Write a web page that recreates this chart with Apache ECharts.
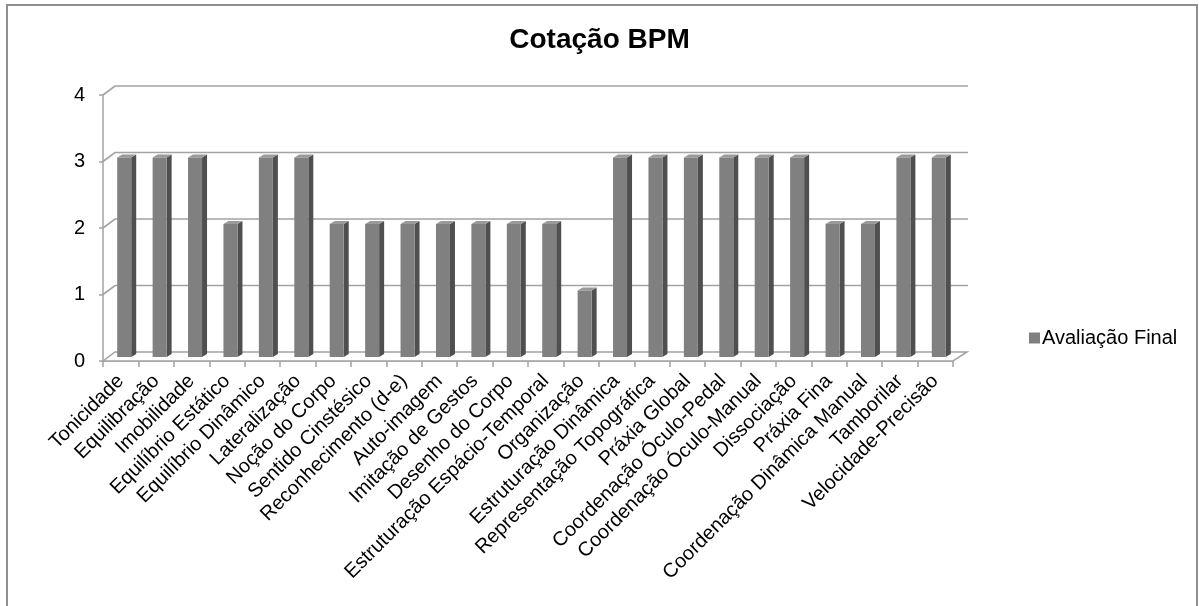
<!DOCTYPE html>
<html>
<head>
<meta charset="utf-8">
<script src="https://cdn.jsdelivr.net/npm/echarts@6/dist/echarts.min.js"></script>
<style>
  html, body { margin: 0; padding: 0; background: #ffffff; }
  #chart { width: 1199px; height: 606px; }
</style>
</head>
<body>
<div id="chart"></div>
<script>
// Assessment items of the BPM battery
const categories = [
  'Tonicidade', 'Equilibração', 'Imobilidade', 'Equilíbrio Estático',
  'Equilíbrio Dinâmico', 'Lateralização', 'Noção do Corpo', 'Sentido Cinstésico',
  'Reconhecimento (d-e)', 'Auto-imagem', 'Imitação de Gestos', 'Desenho do Corpo',
  'Estruturação Espácio-Temporal', 'Organização', 'Estruturação Dinâmica',
  'Representação Topográfica', 'Práxia Global', 'Coordenação Óculo-Pedal',
  'Coordenação Óculo-Manual', 'Dissociação', 'Práxia Fina',
  'Coordenação Dinâmica Manual', 'Tamborilar', 'Velocidade-Precisão'
];
// Final assessment score per item
const finalScores = [3, 3, 3, 2, 3, 3, 2, 2, 2, 2, 2, 2, 2, 1, 3, 3, 3, 3, 3, 3, 2, 2, 3, 3];
// Value axis ticks
const yTicks = [0, 1, 2, 3, 4];

const FONT = "'Liberation Sans', Arial, sans-serif";
const GRID_COLOR = '#a3a3a3';
// pseudo-3D depth of the back wall and of the columns
const WALL_DX = 12, WALL_DY = -9;
const BAR_DY = -4, SIDE_DX = 5, SIDE_DY = -3;

const chart = echarts.init(document.getElementById('chart'), null, { renderer: 'canvas' });

function renderWall(params, api) {
  const v = api.value(1);
  const cs = params.coordSys;
  const y = api.coord([0, v])[1];
  const x0 = cs.x;
  const x1 = cs.x + cs.width;
  const children = [];
  if (v === 0) {
    // floor
    children.push({
      type: 'polygon',
      shape: { points: [[x0, y], [x1, y], [x1 + WALL_DX + 2, y + WALL_DY], [x0 + WALL_DX, y + WALL_DY]] },
      style: { fill: '#ffffff', stroke: GRID_COLOR, lineWidth: 1.5 }
    });
  } else {
    children.push({
      type: 'polyline',
      shape: { points: [[x0, y], [x0 + WALL_DX, y + WALL_DY], [x1 + WALL_DX + 3, y + WALL_DY]] },
      style: { fill: null, stroke: GRID_COLOR, lineWidth: 1.6 }
    });
  }
  return { type: 'group', children: children };
}

function renderBar(params, api) {
  const idx = api.value(0);
  const v = api.value(1);
  const top = api.coord([idx, v]);
  const base = api.coord([idx, 0]);
  const c = top[0];
  const l = c - 3.5, r = c + 10.5;
  const yt = top[1] + BAR_DY;
  const yb = base[1] + BAR_DY;
  return {
    type: 'group',
    children: [
      { // side face
        type: 'polygon',
        shape: { points: [[r, yt], [r + SIDE_DX, yt + SIDE_DY], [r + SIDE_DX, yb + SIDE_DY], [r, yb]] },
        style: { fill: '#4f4f4f' }
      },
      { // top face
        type: 'polygon',
        shape: { points: [[l, yt], [r, yt], [r + SIDE_DX, yt + SIDE_DY], [l + SIDE_DX, yt + SIDE_DY]] },
        style: { fill: '#9a9a9a' }
      },
      { // front face
        type: 'rect',
        shape: { x: l, y: yt, width: r - l, height: yb - yt },
        style: { fill: '#808080' }
      }
    ]
  };
}

chart.setOption({
  animation: false,
  backgroundColor: '#ffffff',
  title: {
    text: 'Cotação BPM',
    left: 'center',
    top: 21,
    textStyle: { fontFamily: FONT, fontSize: 28, fontWeight: 'bold', color: '#000000' }
  },
  legend: {
    data: [{ name: 'Avaliação Final', icon: 'rect' }],
    left: 1024,
    top: 323,
    itemWidth: 11,
    itemHeight: 11,
    itemGap: 4,
    textStyle: { fontFamily: FONT, fontSize: 20, color: '#000000', padding: [0, 0, 0, -3] }
  },
  graphic: [{
    type: 'rect',
    shape: { x: 7, y: 5, width: 1190, height: 640 },
    style: { fill: null, stroke: '#8f8f8f', lineWidth: 2 },
    z: 0
  }],
  grid: { left: 103, right: 246, top: 95, bottom: 245 },
  xAxis: {
    type: 'category',
    data: categories,
    boundaryGap: true,
    axisLine: { show: true, lineStyle: { color: GRID_COLOR, width: 1.5 } },
    axisTick: { show: true, interval: 0, length: 6, lineStyle: { color: GRID_COLOR, width: 1.5 } },
    axisLabel: {
      interval: 0,
      rotate: 45,
      margin: 17,
      fontFamily: FONT,
      fontSize: 20,
      color: '#000000'
    },
    splitLine: { show: false }
  },
  yAxis: {
    type: 'value',
    min: 0,
    max: 4,
    interval: 1,
    axisLine: { show: true, lineStyle: { color: GRID_COLOR, width: 1.5 } },
    axisTick: { show: true, length: 4, lineStyle: { color: GRID_COLOR, width: 1.5 } },
    axisLabel: { margin: 18, fontFamily: FONT, fontSize: 20, color: '#000000' },
    splitLine: { show: false }
  },
  series: [
    {
      type: 'custom',
      name: 'walls',
      silent: true,
      z: 1,
      renderItem: renderWall,
      data: yTicks.map(function (t) { return [0, t]; })
    },
    {
      type: 'custom',
      name: 'Avaliação Final',
      z: 2,
      itemStyle: { color: '#808080' },
      renderItem: renderBar,
      data: finalScores.map(function (s, i) { return [i, s]; })
    }
  ]
});
</script>
</body>
</html>
